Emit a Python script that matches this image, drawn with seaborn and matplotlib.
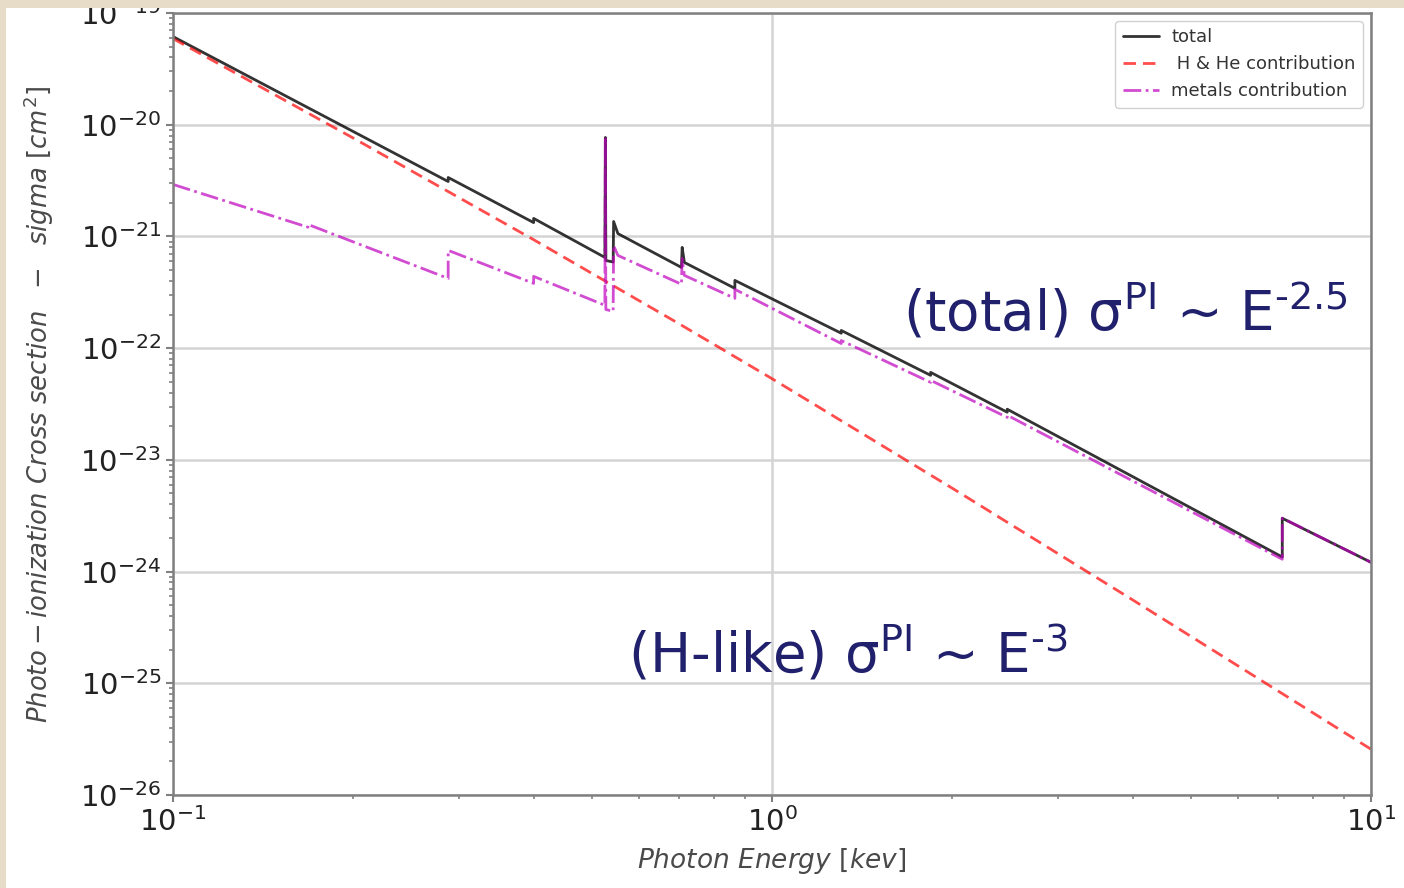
import matplotlib
matplotlib.use("Agg")
import matplotlib.pyplot as plt
from matplotlib.patches import Rectangle
from matplotlib.ticker import LogLocator, NullFormatter
import numpy as np
import seaborn as sns

# Photo-ionization cross sections [cm^2] versus photon energy [keV]
energy_total = [0.10, 0.288, 0.288, 0.40, 0.40, 0.526, 0.527, 0.528, 0.543, 0.544,
                0.553, 0.706, 0.708, 0.714, 0.867, 0.867, 1.305, 1.305, 1.84, 1.84,
                2.47, 2.47, 7.11, 7.11, 10.0]
sigma_total = [6.15e-20, 3.10e-21, 3.37e-21, 1.33e-21, 1.45e-21, 6.49e-22, 7.69e-21, 6.09e-22,
               5.90e-22, 1.36e-21, 1.06e-21, 5.28e-22, 7.98e-22, 5.85e-22, 3.43e-22, 4.04e-22,
               1.36e-22, 1.44e-22, 5.71e-23, 6.07e-23, 2.67e-23, 2.84e-23, 1.35e-24, 3.00e-24,
               1.21e-24]

energy_hhe = [0.10, 0.20, 0.40, 0.70, 1.00, 2.00, 4.00, 10.0]
sigma_hhe = [5.90e-20, 7.59e-21, 9.35e-22, 1.65e-22, 5.33e-23, 5.57e-24, 5.58e-25, 2.57e-26]

energy_metals = [0.10, 0.168, 0.168, 0.288, 0.288, 0.40, 0.40, 0.526, 0.527, 0.528, 0.543,
                 0.544, 0.553, 0.706, 0.708, 0.714, 0.867, 0.867, 1.305, 1.305, 1.84, 1.84,
                 2.47, 2.47, 7.11, 7.11, 10.0]
sigma_metals = [2.92e-21, 1.21e-21, 1.28e-21, 4.21e-22, 7.50e-22, 3.80e-22, 4.39e-22, 2.42e-22,
                7.69e-21, 2.22e-22, 2.13e-22, 8.29e-22, 6.76e-22, 3.73e-22, 6.35e-22, 4.48e-22,
                2.79e-22, 3.36e-22, 1.10e-22, 1.17e-22, 4.94e-23, 5.15e-23, 2.40e-23, 2.51e-23,
                1.29e-24, 3.01e-24, 1.21e-24]

series_labels = ["total", " H & He contribution", "metals contribution"]
xticks = [0.1, 1.0, 10.0]
yticks = [1e-26, 1e-25, 1e-24, 1e-23, 1e-22, 1e-21, 1e-20, 1e-19]

sns.set_style("whitegrid")
plt.rcParams["font.family"] = ["DejaVu Sans"]
plt.rcParams["mathtext.fontset"] = "dejavusans"

W, H = 1404, 888
fig = plt.figure(figsize=(W / 100, H / 100), dpi=100, facecolor="white")
ax = fig.add_axes([173 / W, 93 / H, 1198 / W, 782 / H])
ax.set_facecolor("white")

sns.lineplot(x=energy_total, y=sigma_total, ax=ax, color="k", alpha=0.8, lw=2.0,
             label=series_labels[0], estimator=None, sort=False)
sns.lineplot(x=energy_hhe, y=sigma_hhe, ax=ax, color="r", alpha=0.7, lw=2.0,
             linestyle=(0, (4.5, 2.5)), label=series_labels[1], estimator=None, sort=False)
sns.lineplot(x=energy_metals, y=sigma_metals, ax=ax, color="m", alpha=0.7, lw=2.0,
             linestyle="-.", label=series_labels[2], estimator=None, sort=False)

ax.set_xscale("log")
ax.set_yscale("log")
ax.set_xlim(0.1, 10)
ax.set_ylim(1e-26, 1e-19)
ax.set_xticks(xticks)
ax.set_yticks(yticks)
for axis in (ax.xaxis, ax.yaxis):
    axis.set_minor_locator(LogLocator(base=10, subs=np.arange(2, 10), numticks=100))
    axis.set_minor_formatter(NullFormatter())

ax.grid(True, which="major", color="#d4d4d4", lw=1.8)
ax.grid(False, which="minor")
ax.tick_params(which="both", direction="out", colors="#808080", labelcolor="#222222",
               bottom=True, left=True)
ax.tick_params(which="major", length=5, width=1.5, labelsize=21)
ax.tick_params(which="minor", length=3, width=1.2)
for sp in ax.spines.values():
    sp.set_visible(True)
    sp.set_color("#808080")
    sp.set_linewidth(1.8)

ax.set_xlabel(r"$Photon\ Energy\ [kev]$", fontsize=19, color="#4a4a4a")
ax.set_ylabel(r"$Photo-ionization\ Cross\ section\ \ -\ \ sigma\ [cm^2]$",
              fontsize=18.6, color="#4a4a4a")
ax.xaxis.set_label_coords(0.5, (795 - 846) / 782)
ax.yaxis.set_label_coords((56 - 173) / 1198, 0.5)

leg = ax.legend(loc="upper right", fontsize=13, frameon=True, fancybox=True,
                framealpha=0.9, edgecolor="#cccccc", handlelength=2.0,
                handletextpad=0.7, borderaxespad=0.45)
for t in leg.get_texts():
    t.set_color("#333333")

navy = "#20206c"
fig.text(903 / W, 1 - 330 / H, "(total) σ$^{\\rm PI}$ ~ E$^{\\rm \u20102.5}$", fontsize=39.3,
         color=navy, va="baseline", ha="left")
fig.text(628 / W, 1 - 672 / H, "(H-like) σ$^{\\rm PI}$ ~ E$^{\\rm \u20103}$", fontsize=39.3,
         color=navy, va="baseline", ha="left")

# parchment frame around the slide area
beige = "#e7dcc8"
fig.patches.append(Rectangle((0, 1 - 8 / H), 1, 8 / H, transform=fig.transFigure,
                             facecolor=beige, edgecolor="none", zorder=20))
fig.patches.append(Rectangle((0, 0), 6 / W, 1, transform=fig.transFigure,
                             facecolor=beige, edgecolor="none", zorder=20))

fig.savefig("out.png", dpi=100, facecolor=fig.get_facecolor())
